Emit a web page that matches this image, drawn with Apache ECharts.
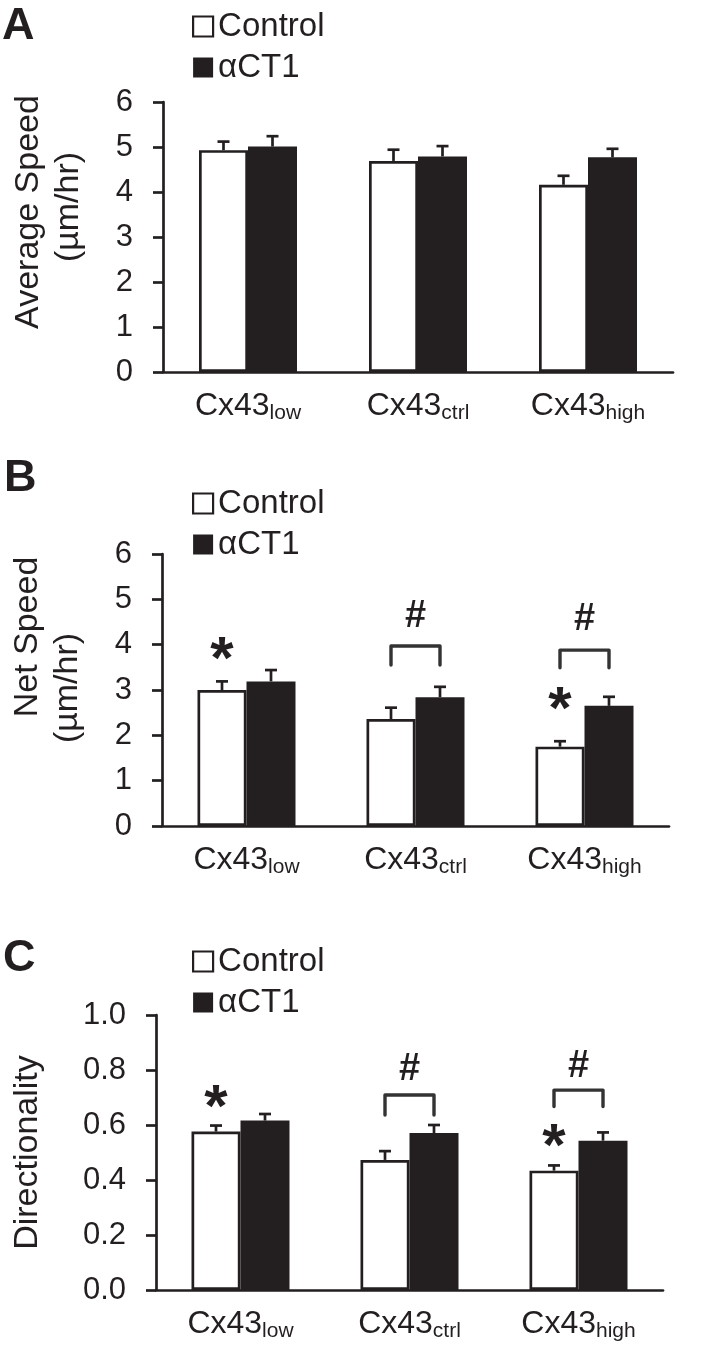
<!DOCTYPE html>
<html>
<head>
<meta charset="utf-8">
<script src="https://cdn.jsdelivr.net/npm/echarts@6/dist/echarts.min.js"></script>
<style>
  html, body { margin: 0; padding: 0; background: #fff; }
  #chart { width: 708px; height: 1356px; }
</style>
</head>
<body>
<div id="chart"></div>
<script>
// categories (subscripts of Cx43)
const groups = ['low', 'ctrl', 'high'];
const seriesNames = ['Control', 'αCT1'];

// A - average speed (µm/hr)
const speedControl = [4.93, 4.69, 4.16];
const speedControlErr = [0.19, 0.25, 0.20];
const speedAct1 = [5.01, 4.79, 4.77];
const speedAct1Err = [0.23, 0.23, 0.19];

// B - net speed (µm/hr)
const netControl = [3.00, 2.36, 1.75];
const netControlErr = [0.19, 0.25, 0.12];
const netAct1 = [3.19, 2.84, 2.65];
const netAct1Err = [0.25, 0.23, 0.20];
const netStars = [[0, 3.93], [2, 2.83]];           // [group, y] over Control bar
const netHashes = [[1, 4.62], [2, 4.55]];          // [group, y]
const netBrackets = [[1, 3.97, 3.55], [2, 3.88, 3.49]]; // [group, top, leg end]

// C - directionality
const dirControl = [0.576, 0.473, 0.434];
const dirControlErr = [0.022, 0.032, 0.019];
const dirAct1 = [0.616, 0.571, 0.543];
const dirAct1Err = [0.024, 0.029, 0.030];
const dirStars = [[0, 0.709], [2, 0.564]];
const dirHashes = [[1, 0.800], [2, 0.812]];
const dirBrackets = [[1, 0.709, 0.636], [2, 0.727, 0.667]];

const INK = '#231f20';
const FONT = 'Liberation Sans, Arial, sans-serif';
const BAR_W = 49;

let myChart = echarts.init(document.getElementById('chart'));

function errRender(offset) {
  return function (params, api) {
    const base = api.coord([api.value(0), api.value(1)]);
    const top = api.coord([api.value(0), api.value(1) + api.value(2)]);
    const x = base[0] + offset;
    return {
      type: 'group',
      children: [
        { type: 'line', shape: { x1: x, y1: base[1], x2: x, y2: top[1] }, style: { stroke: INK, lineWidth: 2.7 } },
        { type: 'line', shape: { x1: x - 6, y1: top[1], x2: x + 6, y2: top[1] }, style: { stroke: INK, lineWidth: 2.7 } }
      ]
    };
  };
}

function textRender(txt, size, dx, dy) {
  return function (params, api) {
    const p = api.coord([api.value(0), api.value(1)]);
    return {
      type: 'text',
      style: {
        text: txt, x: p[0] + dx, y: p[1] + dy,
        fontSize: size, fontWeight: 'bold', fontFamily: FONT,
        fill: INK, align: 'center', verticalAlign: 'middle'
      }
    };
  };
}

function bracketRender(params, api) {
  const top = api.coord([api.value(0), api.value(1)]);
  const leg = api.coord([api.value(0), api.value(2)]);
  const x1 = top[0] - BAR_W / 2, x2 = top[0] + BAR_W / 2;
  return {
    type: 'polyline',
    shape: { points: [[x1, leg[1]], [x1, top[1]], [x2, top[1]], [x2, leg[1]]] },
    style: { stroke: '#333', lineWidth: 3.4, fill: null, lineJoin: 'round', lineCap: 'round' }
  };
}

function panelSeries(idx, ctrl, ctrlErr, act, actErr, stars, hashes, brackets) {
  const list = [
    {
      name: seriesNames[0], type: 'bar', xAxisIndex: idx, yAxisIndex: idx,
      barWidth: BAR_W, barGap: '0%', data: ctrl,
      itemStyle: { color: '#fff', borderColor: INK, borderWidth: 2.7 }
    },
    {
      name: seriesNames[1], type: 'bar', xAxisIndex: idx, yAxisIndex: idx,
      barWidth: BAR_W, barGap: '0%', data: act,
      itemStyle: { color: INK }
    },
    {
      type: 'custom', xAxisIndex: idx, yAxisIndex: idx, z: 3,
      renderItem: errRender(-BAR_W / 2), encode: { x: 0, y: 1 },
      data: ctrl.map((v, i) => [i, v, ctrlErr[i]])
    },
    {
      type: 'custom', xAxisIndex: idx, yAxisIndex: idx, z: 3,
      renderItem: errRender(BAR_W / 2), encode: { x: 0, y: 1 },
      data: act.map((v, i) => [i, v, actErr[i]])
    }
  ];
  if (stars) {
    list.push({
      type: 'custom', xAxisIndex: idx, yAxisIndex: idx, z: 4,
      renderItem: textRender('*', 60, -BAR_W / 2, 14), encode: { x: 0, y: 1 }, data: stars
    });
    list.push({
      type: 'custom', xAxisIndex: idx, yAxisIndex: idx, z: 4,
      renderItem: textRender('#', 38, 0, 0), encode: { x: 0, y: 1 }, data: hashes
    });
    list.push({
      type: 'custom', xAxisIndex: idx, yAxisIndex: idx, z: 4,
      renderItem: bracketRender, encode: { x: 0, y: 1 }, data: brackets
    });
  }
  return list;
}

const grids = [
  { left: 163, top: 102, width: 510, height: 270 },
  { left: 159, top: 554, width: 510, height: 272 },
  { left: 153, top: 1015, width: 510, height: 275 }
];

function xAxisFor(idx) {
  return {
    type: 'category', gridIndex: idx, data: groups,
    axisLine: { lineStyle: { color: INK, width: 2.7 } },
    axisTick: { show: false },
    axisLabel: {
      margin: 16, color: INK,
      formatter: v => '{m|Cx43}{s|' + v + '}',
      rich: {
        m: { fontSize: 32, fontFamily: FONT, color: INK, lineHeight: 36 },
        s: { fontSize: 21, fontFamily: FONT, color: INK, lineHeight: 10, verticalAlign: 'bottom' }
      }
    }
  };
}

// axis title; each line nudged along the axis with its own left padding
function yAxisFor(idx, max, interval, lines, gap, shifts, fmt) {
  const rich = {};
  const parts = lines.map((t, i) => {
    rich['l' + i] = { fontSize: 34, fontFamily: FONT, color: INK, lineHeight: 40, padding: [0, 0, 0, shifts[i]] };
    return '{l' + i + '|' + t + '}';
  });
  return {
    type: 'value', gridIndex: idx, min: 0, max: max, interval: interval,
    name: parts.join('\n'), nameLocation: 'middle', nameGap: gap, nameRotate: 90,
    nameTextStyle: { fontSize: 34, fontFamily: FONT, color: INK, lineHeight: 40, rich: rich },
    axisLine: { show: true, lineStyle: { color: INK, width: 2.7 } },
    axisTick: { show: true, length: 10, lineStyle: { color: INK, width: 2.7 } },
    splitLine: { show: false },
    axisLabel: { fontSize: 31, fontFamily: FONT, color: INK, margin: 30, formatter: fmt }
  };
}

const legendBase = {
  orient: 'vertical', left: 187, itemWidth: 20, itemHeight: 20, itemGap: 8,
  icon: 'rect', data: seriesNames,
  textStyle: { fontSize: 33, fontFamily: FONT, color: INK },
  itemStyle: { borderWidth: 2.2 }
};

const letterStyle = { fontSize: 45, fontWeight: 'bold', color: INK, fontFamily: FONT };

let option = {
  animation: false,
  backgroundColor: '#fff',
  textStyle: { fontFamily: FONT },
  title: [
    { text: 'A', left: 2, top: 4, padding: 0, textStyle: letterStyle },
    { text: 'B', left: 4, top: 456, padding: 0, textStyle: letterStyle },
    { text: 'C', left: 3, top: 936, padding: 0, textStyle: letterStyle }
  ],
  legend: [
    Object.assign({}, legendBase, { top: 5 }),
    Object.assign({}, legendBase, { top: 482 }),
    Object.assign({}, legendBase, { top: 940 })
  ],
  grid: grids,
  xAxis: [xAxisFor(0), xAxisFor(1), xAxisFor(2)],
  yAxis: [
    yAxisFor(0, 6, 1, ['Average Speed', '(µm/hr)'], 74, [50, 60]),
    yAxisFor(1, 6, 1, ['Net Speed', '(µm/hr)'], 74, [106, 4]),
    yAxisFor(2, 1, 0.2, ['Directionality'], 108, [0], v => v.toFixed(1))
  ],
  series: []
    .concat(panelSeries(0, speedControl, speedControlErr, speedAct1, speedAct1Err))
    .concat(panelSeries(1, netControl, netControlErr, netAct1, netAct1Err, netStars, netHashes, netBrackets))
    .concat(panelSeries(2, dirControl, dirControlErr, dirAct1, dirAct1Err, dirStars, dirHashes, dirBrackets))
};

myChart.setOption(option);
</script>
</body>
</html>
